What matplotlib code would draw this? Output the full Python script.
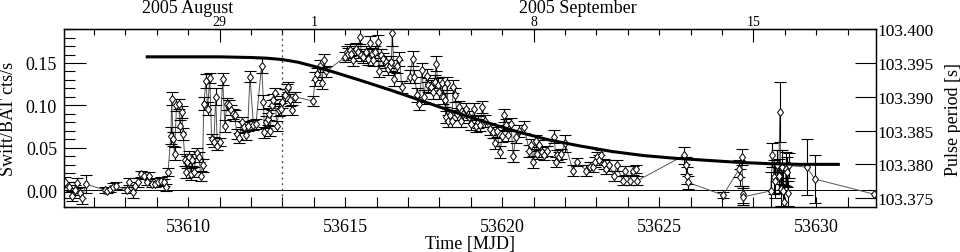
import matplotlib
matplotlib.use("Agg")
import matplotlib.pyplot as plt
from matplotlib.ticker import MultipleLocator, FixedLocator
import numpy as np

plt.rcParams['font.family'] = ['Liberation Serif', 'DejaVu Serif']
plt.rcParams['font.size'] = 13

# Swift/BAT light curve: time [MJD], rate [cts/s], error [cts/s]
mjd = [53606.07, 53606.20, 53606.30, 53606.40, 53606.47, 53606.55, 53606.62, 53606.75,
       53607.35, 53607.42, 53607.50, 53607.60, 53607.70, 53608.05, 53608.12, 53608.25,
       53608.32, 53608.40, 53608.50, 53608.60, 53608.68, 53608.76, 53608.85, 53608.95,
       53609.05, 53609.15, 53609.22, 53609.30, 53609.36, 53609.45, 53609.48, 53609.52,
       53609.57, 53609.63, 53609.70, 53609.74, 53609.80, 53609.84, 53609.90, 53609.93,
       53609.96, 53610.02, 53610.08, 53610.12, 53610.18, 53610.27, 53610.35, 53610.40,
       53610.46, 53610.50, 53610.57, 53610.62, 53610.69, 53610.75, 53610.82, 53610.88,
       53610.93, 53611.00, 53611.10, 53611.17, 53611.23, 53611.30, 53611.38, 53611.43,
       53611.48, 53611.55, 53611.63, 53611.70, 53611.78, 53611.84, 53611.90, 53611.97,
       53612.08, 53612.16, 53612.34, 53612.40, 53612.43, 53612.47, 53612.53, 53612.58,
       53612.62, 53612.66, 53612.70, 53612.76, 53612.82, 53612.90, 53612.95, 53613.00,
       53613.08, 53613.14, 53613.19, 53613.25, 53613.32, 53613.40, 53613.98, 53614.04,
       53614.10, 53614.20, 53614.26, 53614.32, 53614.40, 53614.99, 53615.05, 53615.10,
       53615.15, 53615.20, 53615.26, 53615.33, 53615.40, 53615.47, 53615.52, 53615.58,
       53615.66, 53615.73, 53615.80, 53615.85, 53615.90, 53615.95, 53616.03, 53616.08,
       53616.13, 53616.20, 53616.30, 53616.33, 53616.37, 53616.42, 53616.47, 53616.50,
       53616.57, 53616.65, 53616.73, 53616.80, 53617.05, 53617.15, 53617.20, 53617.30,
       53617.35, 53617.45, 53617.50, 53617.60, 53617.65, 53617.72, 53617.80, 53617.85,
       53617.90, 53617.95, 53618.00, 53618.07, 53618.10, 53618.17, 53618.20, 53618.25,
       53618.28, 53618.33, 53618.40, 53618.44, 53618.50, 53618.56, 53618.63, 53618.70,
       53618.76, 53618.86, 53618.93, 53619.02, 53619.10, 53619.18, 53619.24, 53619.30,
       53619.37, 53619.45, 53619.60, 53619.70, 53619.77, 53619.83, 53619.93, 53620.00,
       53620.07, 53620.12, 53620.20, 53620.28, 53620.35, 53620.43, 53620.53, 53620.70,
       53620.86, 53620.92, 53620.98, 53621.06, 53621.12, 53621.18, 53621.26, 53621.33,
       53621.42, 53621.65, 53621.72, 53621.76, 53621.80, 53621.87, 53622.00, 53622.25,
       53622.37, 53622.68, 53622.80, 53622.90, 53622.95, 53623.02, 53623.08, 53623.16,
       53623.23, 53623.32, 53623.40, 53623.57, 53623.65, 53623.83, 53623.90, 53624.06,
       53624.15, 53624.25, 53624.30, 53625.80, 53625.84, 53625.88, 53625.92, 53627.03,
       53627.55, 53627.58, 53627.63, 53627.66, 53627.68, 53628.55, 53628.60, 53628.65,
       53628.70, 53628.75, 53628.80, 53628.84, 53628.87, 53628.90, 53628.95, 53628.98,
       53629.03, 53629.06, 53629.10, 53629.13, 53629.70, 53629.95, 53631.85]
rate = [0.0095, 0.004, -0.007, 0.000, 0.008, -0.003, -0.010, 0.007,
        0.000, -0.001, 0.001, 0.004, 0.005, 0.000, 0.010, -0.002,
        0.005, 0.009, 0.019, 0.017, 0.010, 0.017, 0.007, 0.007,
        0.010, 0.011, 0.009, 0.003, 0.021, 0.064, 0.108, 0.060,
        0.043, 0.100, 0.102, 0.076, 0.092, 0.066, 0.035, 0.021,
        0.033, 0.039, 0.019, 0.035, 0.021, 0.044, 0.039, 0.017,
        0.029, 0.102, 0.129, 0.096, 0.132, 0.060, 0.057, 0.110,
        0.052, 0.057, 0.131, 0.076, 0.102, 0.100, 0.094, 0.090,
        0.088, 0.066, 0.061, 0.080, 0.074, 0.065, 0.076, 0.134,
        0.077, 0.078, 0.147, 0.104, 0.068, 0.080, 0.084, 0.090,
        0.070, 0.100, 0.106, 0.114, 0.076, 0.094, 0.096, 0.104,
        0.112, 0.119, 0.122, 0.106, 0.094, 0.110, 0.105, 0.131,
        0.137, 0.146, 0.126, 0.153, 0.140, 0.157, 0.163, 0.161,
        0.165, 0.161, 0.153, 0.167, 0.163, 0.181, 0.159, 0.157,
        0.163, 0.155, 0.174, 0.161, 0.153, 0.163, 0.175, 0.140,
        0.159, 0.155, 0.151, 0.147, 0.143, 0.147, 0.151, 0.185,
        0.131, 0.146, 0.155, 0.122, 0.134, 0.155, 0.134, 0.112,
        0.102, 0.142, 0.110, 0.135, 0.124, 0.122, 0.116, 0.128,
        0.149, 0.124, 0.116, 0.126, 0.110, 0.106, 0.086, 0.126,
        0.082, 0.088, 0.082, 0.122, 0.112, 0.090, 0.098, 0.082,
        0.090, 0.096, 0.086, 0.078, 0.096, 0.076, 0.080, 0.077,
        0.098, 0.082, 0.072, 0.068, 0.055, 0.070, 0.045, 0.064,
        0.088, 0.077, 0.065, 0.078, 0.040, 0.063, 0.070, 0.074,
        0.046, 0.053, 0.033, 0.058, 0.043, 0.053, 0.045, 0.041,
        0.046, 0.063, 0.033, 0.041, 0.039, 0.043, 0.055, 0.023,
        0.033, 0.023, 0.027, 0.027, 0.033, 0.039, 0.035, 0.041,
        0.031, 0.025, 0.029, 0.017, 0.029, 0.011, 0.023, 0.011,
        0.023, 0.025, 0.011, 0.041, 0.029, 0.017, 0.009, -0.006,
        0.025, 0.015, 0.039, -0.005, -0.008, -0.001, 0.041, 0.015,
        0.011, 0.029, 0.017, 0.092, 0.001, 0.027, -0.001, -0.014,
        0.025, 0.021, -0.004, 0.029, 0.027, 0.013, -0.005]
rate_err = [0.006, 0.006, 0.006, 0.006, 0.006, 0.006, 0.006, 0.011,
            0.003, 0.003, 0.003, 0.004, 0.004, 0.004, 0.004, 0.008,
            0.005, 0.005, 0.004, 0.004, 0.004, 0.004, 0.004, 0.004,
            0.004, 0.004, 0.004, 0.004, 0.005, 0.010, 0.008, 0.008,
            0.008, 0.007, 0.006, 0.007, 0.007, 0.007, 0.007, 0.007,
            0.007, 0.007, 0.007, 0.007, 0.006, 0.006, 0.006, 0.006,
            0.008, 0.008, 0.008, 0.008, 0.006, 0.006, 0.006, 0.010,
            0.005, 0.005, 0.007, 0.007, 0.007, 0.006, 0.006, 0.006,
            0.006, 0.006, 0.006, 0.006, 0.006, 0.006, 0.006, 0.007,
            0.006, 0.006, 0.009, 0.008, 0.006, 0.007, 0.007, 0.007,
            0.006, 0.006, 0.007, 0.007, 0.006, 0.007, 0.007, 0.007,
            0.007, 0.006, 0.006, 0.007, 0.006, 0.006, 0.006, 0.008,
            0.007, 0.007, 0.007, 0.008, 0.006, 0.006, 0.007, 0.007,
            0.007, 0.007, 0.007, 0.007, 0.007, 0.009, 0.007, 0.007,
            0.007, 0.007, 0.008, 0.007, 0.007, 0.007, 0.008, 0.007,
            0.007, 0.007, 0.007, 0.007, 0.007, 0.007, 0.007, 0.015,
            0.008, 0.008, 0.008, 0.007, 0.008, 0.009, 0.008, 0.008,
            0.008, 0.008, 0.008, 0.008, 0.008, 0.008, 0.008, 0.008,
            0.009, 0.008, 0.008, 0.008, 0.008, 0.008, 0.007, 0.008,
            0.007, 0.007, 0.007, 0.008, 0.008, 0.007, 0.007, 0.007,
            0.007, 0.007, 0.007, 0.007, 0.007, 0.007, 0.007, 0.007,
            0.007, 0.007, 0.007, 0.007, 0.007, 0.007, 0.007, 0.007,
            0.008, 0.007, 0.007, 0.007, 0.007, 0.007, 0.007, 0.007,
            0.007, 0.007, 0.007, 0.007, 0.006, 0.006, 0.006, 0.006,
            0.006, 0.008, 0.006, 0.006, 0.006, 0.006, 0.010, 0.006,
            0.005, 0.007, 0.006, 0.006, 0.006, 0.006, 0.006, 0.006,
            0.006, 0.006, 0.006, 0.006, 0.006, 0.005, 0.005, 0.005,
            0.005, 0.005, 0.005, 0.010, 0.010, 0.010, 0.008, 0.004,
            0.010, 0.010, 0.010, 0.010, 0.010, 0.022, 0.014, 0.020,
            0.020, 0.018, 0.020, 0.035, 0.020, 0.020, 0.025, 0.020,
            0.020, 0.018, 0.015, 0.015, 0.033, 0.028, 0.005]

# pulse period model curve
period_mjd = [53608.7, 53610.0, 53611.0, 53612.0, 53612.5, 53613.0, 53613.5, 53614.0,
              53614.6, 53615.5, 53616.5, 53617.5, 53618.5, 53619.5, 53620.5, 53621.5,
              53622.5, 53623.5, 53624.5, 53625.5, 53626.5, 53627.5, 53628.5, 53629.5,
              53630.7]
period = [103.3959, 103.3959, 103.3959, 103.3958, 103.3957, 103.3955, 103.3951, 103.3945,
          103.3937, 103.3924, 103.3909, 103.3893, 103.3877, 103.3862, 103.3848, 103.3836,
          103.3827, 103.3819, 103.3813, 103.3809, 103.3806, 103.3803, 103.3801, 103.3800,
          103.3800]

# calendar ticks on the top axis
date_mjd = [53611, 53614, 53621, 53628]
date_labels = ['29', '1', '8', '15']
month_mjd = [53610.0, 53622.4]
month_labels = ['2005 August', '2005 September']
outburst_mjd = 53613.0

fig = plt.figure(figsize=(9.6, 2.53), dpi=100)
ax = fig.add_axes([0.0667, 0.178, 0.8458, 0.703])

ax.axhline(0, color='black', lw=0.7)
ax.axvline(outburst_mjd, color='#555555', lw=1.0, ls=(0, (1.5, 2.5)))
ax.plot(mjd, rate, color='#555555', lw=0.7, zorder=2)
eb = ax.errorbar(mjd, rate, yerr=rate_err, fmt='none', ecolor='black', elinewidth=0.8,
                 capsize=4, capthick=0.8, zorder=3)
for cap in eb[1]:
    cap.set_color('#777777')
ax.plot(mjd, rate, ls='none', marker='d', ms=4.5, mfc='white', mec='black', mew=0.7, zorder=4)

ax.set_xlim(53606.05, 53631.9)
ax.set_ylim(-0.02, 0.19)
ax.xaxis.set_major_locator(MultipleLocator(5))
ax.xaxis.set_minor_locator(MultipleLocator(1))
ax.yaxis.set_major_locator(FixedLocator([0.0, 0.05, 0.10, 0.15]))
ax.yaxis.set_minor_locator(MultipleLocator(0.01))
ax.set_yticklabels(['0.00', '0.05', '0.10', '0.15'])
ax.tick_params(axis='y', which='major', direction='in', length=16, width=0.8, right=False, pad=5)
ax.tick_params(axis='y', which='minor', direction='in', length=8, width=0.8, right=False)
ax.tick_params(axis='x', which='both', direction='in', length=7, width=0.8, top=False, pad=8)
ax.set_xlabel('Time [MJD]', labelpad=0)
ax.set_ylabel('Swift/BAT cts/s', labelpad=6)

ax2 = ax.twinx()
ax2.plot(period_mjd, period, color='black', lw=2.2, zorder=5)
ax2.set_ylim(103.3737, 103.4000)
ax2.yaxis.set_major_locator(FixedLocator([103.375, 103.380, 103.385, 103.390, 103.395, 103.400]))
ax2.set_yticklabels(['103.375', '103.380', '103.385', '103.390', '103.395', '103.400'])
ax2.tick_params(axis='y', direction='in', length=15, width=0.8, pad=1, labelsize=12.5)
ax2.set_ylabel('Pulse period [s]', labelpad=8)

top = ax.secondary_xaxis('top')
top.xaxis.set_major_locator(FixedLocator(date_mjd))
top.xaxis.set_minor_locator(MultipleLocator(1))
top.set_xticklabels(date_labels, fontsize=10)
top.tick_params(which='major', direction='in', length=9, width=0.8, pad=1)
top.tick_params(which='minor', direction='in', length=4, width=0.8)

for m, lab in zip(month_mjd, month_labels):
    ax.text(m, 1.12, lab, transform=ax.get_xaxis_transform(), ha='center', va='center', fontsize=13)

for a in (ax, ax2):
    for s in a.spines.values():
        s.set_linewidth(0.9)

fig.savefig('out.png', dpi=100)
